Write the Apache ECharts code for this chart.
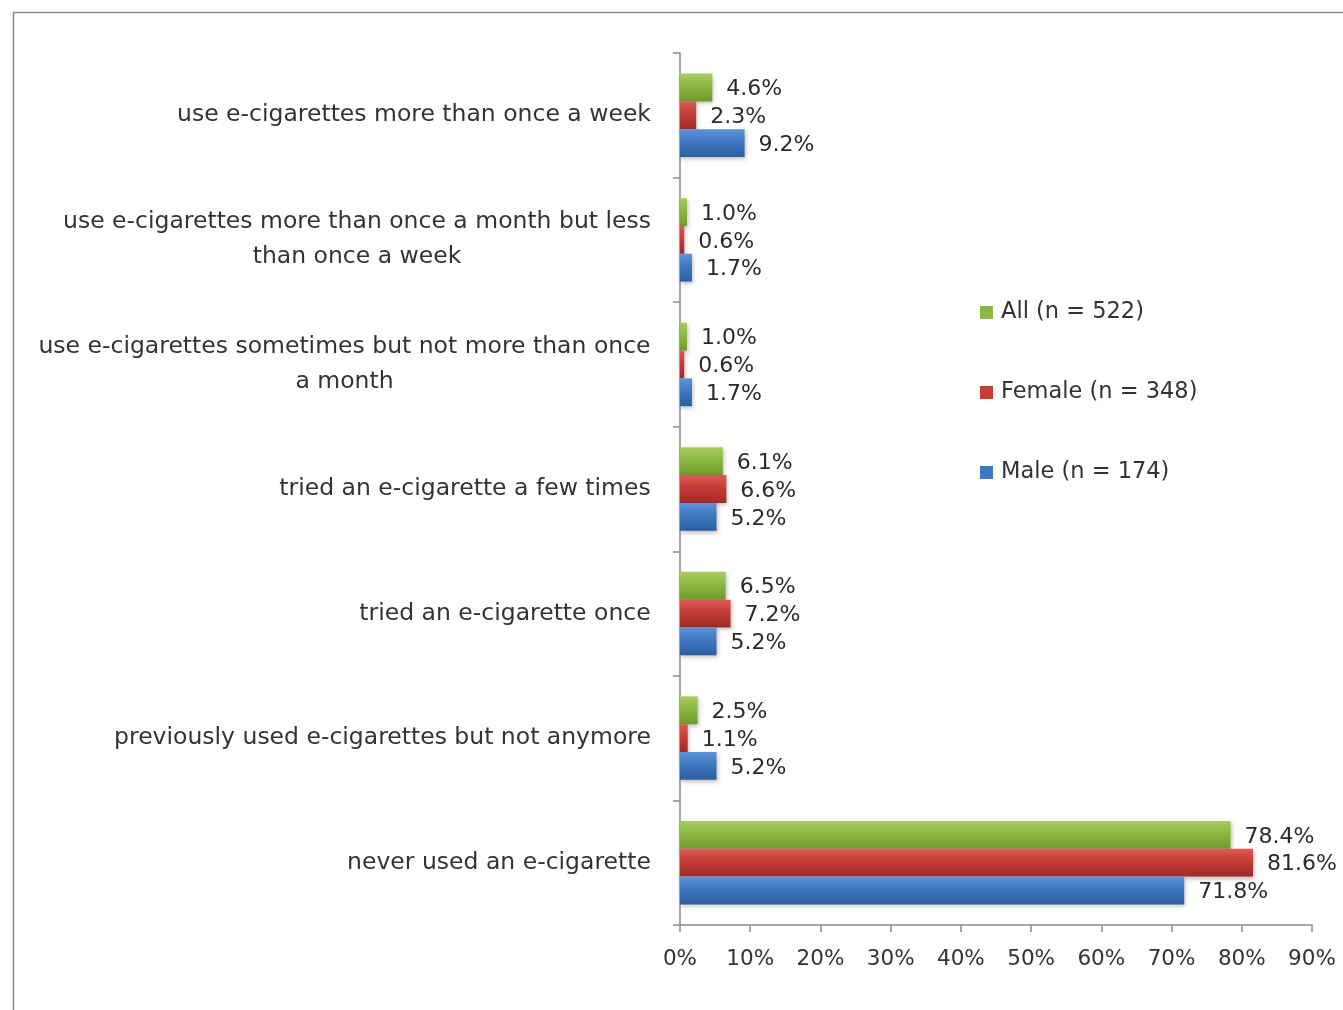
<!DOCTYPE html>
<html>
<head>
<meta charset="utf-8">
<script src="https://cdn.jsdelivr.net/npm/echarts@6/dist/echarts.min.js"></script>
<style>
html,body{margin:0;padding:0;background:#fff;}
#chart{width:1343px;height:1010px;}
</style>
</head>
<body>
<div id="chart"></div>
<script>
const categories = [
  "use e-cigarettes more than once a week",
  "use e-cigarettes more than once a month but less\nthan once a week",
  "use e-cigarettes sometimes but not more than once\na month",
  "tried an e-cigarette a few times",
  "tried an e-cigarette once",
  "previously used e-cigarettes but not anymore",
  "never used an e-cigarette"
];
const seriesNames = ["All (n = 522)", "Female (n = 348)", "Male (n = 174)"];
const allValues = [4.6, 1.0, 1.0, 6.1, 6.5, 2.5, 78.4];
const femaleValues = [2.3, 0.6, 0.6, 6.6, 7.2, 1.1, 81.6];
const maleValues = [9.2, 1.7, 1.7, 5.2, 5.2, 5.2, 71.8];
const xTicks = [0, 10, 20, 30, 40, 50, 60, 70, 80, 90];

const FONT = '"DejaVu Sans", "Open Sans", sans-serif';
const catFontSize = 23.5;
const canvas = document.createElement('canvas');
const ctx = canvas.getContext('2d');
function measure(t) { ctx.font = catFontSize + 'px ' + FONT; return ctx.measureText(t).width; }

const rich = {};
categories.forEach((c, i) => {
  const lines = c.split('\n');
  const w = Math.ceil(Math.max.apply(null, lines.map(measure))) + 2;
  rich['c' + i] = { width: w, align: 'center', fontSize: catFontSize, fontFamily: FONT, color: '#333', lineHeight: 35 };
});

function grad(top, mid, bottom) {
  return new echarts.graphic.LinearGradient(0, 0, 0, 1, [
    { offset: 0, color: top }, { offset: 0.45, color: mid }, { offset: 1, color: bottom }
  ]);
}
const colors = [
  grad('#a9cc60', '#8cb840', '#6f9a2e'),
  grad('#dc5a55', '#c63c37', '#a02a26'),
  grad('#5e93d8', '#3e77c2', '#2c5e9e')
];
const legendColors = ['#8cb840', '#c63c37', '#3e77c2'];
const dataSets = [allValues, femaleValues, maleValues];

const chart = echarts.init(document.getElementById('chart'), null, { renderer: 'canvas' });
chart.setOption({
  animation: false,
  backgroundColor: '#fff',
  graphic: [{
    type: 'rect', left: 11, top: 10, shape: { width: 1345, height: 1010 },
    style: { fill: 'none', stroke: '#8a8a8a', lineWidth: 1.5 }, silent: true
  }],
  color: legendColors,
  legend: {
    orient: 'vertical', left: 975, top: 296, itemGap: 57,
    itemWidth: 13, itemHeight: 13, icon: 'rect',
    textStyle: { fontSize: 22.5, fontFamily: FONT, color: '#333', padding: [0, 0, 0, 3] },
    data: seriesNames.map((n, i) => ({ name: n, itemStyle: { color: legendColors[i] } }))
  },
  grid: { left: 680, right: 31, top: 53, bottom: 85, containLabel: false },
  xAxis: {
    type: 'value', min: 0, max: 90, interval: 10,
    axisLine: { show: true, lineStyle: { color: '#8a8a8a', width: 1.5 } },
    axisTick: { show: true, length: 7, lineStyle: { color: '#8a8a8a', width: 1.5 } },
    splitLine: { show: false },
    axisLabel: { margin: 23, fontSize: 21.5, fontFamily: FONT, color: '#333', formatter: v => xTicks.indexOf(v) >= 0 ? v + '%' : '' }
  },
  yAxis: {
    type: 'category', inverse: true, data: categories,
    axisLine: { show: true, lineStyle: { color: '#8a8a8a', width: 1.5 } },
    axisTick: { show: true, length: 7, lineStyle: { color: '#8a8a8a', width: 1.5 } },
    axisLabel: {
      margin: 28, align: 'right',
      formatter: function (v, i) {
        return v.split('\n').map(l => '{c' + i + '|' + l + '}').join('\n');
      },
      rich: rich
    }
  },
  series: dataSets.map((d, i) => ({
    type: 'bar', name: seriesNames[i], data: d,
    barGap: '0%', barCategoryGap: '33%',
    itemStyle: { color: colors[i], shadowBlur: 4, shadowColor: 'rgba(0,0,0,0.25)', shadowOffsetY: 2, shadowOffsetX: 1 },
    label: {
      show: true, position: 'right', distance: 14, offset: [0, 2],
      fontSize: 22, fontFamily: FONT, color: '#2a2a2a',
      formatter: p => p.value.toFixed(1) + '%'
    }
  }))
});
</script>
</body>
</html>
